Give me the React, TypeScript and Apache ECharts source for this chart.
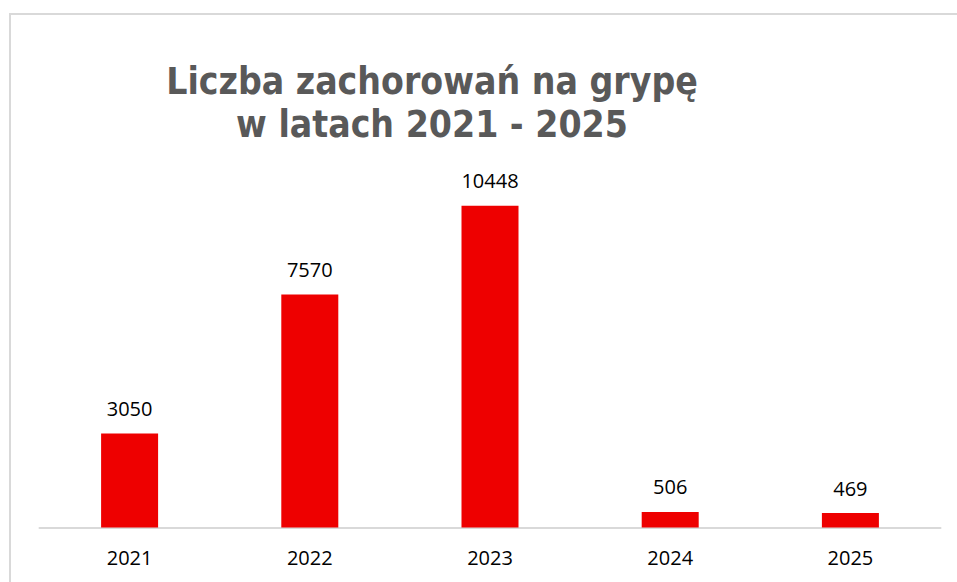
import React, { useEffect, useRef } from "react";
import * as echarts from "echarts";

const categories = ["2021", "2022", "2023", "2024", "2025"];
const cases = [3050, 7570, 10448, 506, 469];
const titleLines = ["Liczba zachorowań na grypę", "w latach 2021 - 2025"];

export default function App() {
  const ref = useRef<HTMLDivElement>(null);
  useEffect(() => {
    if (!ref.current) return;
    const chart = echarts.init(ref.current, null, { renderer: "svg" });
    chart.setOption({
      animation: false,
      backgroundColor: "#ffffff",
      title: {
        text: titleLines.join("\n"),
        left: 432,
        top: 60,
        padding: 0,
        textAlign: "center",
        textStyle: {
          fontFamily: "DejaVu Sans Condensed",
          fontWeight: "bold",
          fontSize: 37,
          lineHeight: 43,
          color: "#595959",
        },
      },
      graphic: [
        {
          type: "rect",
          shape: { x: 10, y: 14, width: 1200, height: 1200 },
          style: { fill: "none", stroke: "#D9D9D9", lineWidth: 2 },
          silent: true,
          z: -1,
        },
      ],
      grid: { left: 39.5, right: 16.5, top: 158, bottom: 54.5, containLabel: false },
      xAxis: {
        type: "category",
        data: categories,
        axisLine: { show: true, lineStyle: { color: "#D9D9D9", width: 2 } },
        axisTick: { show: false },
        axisLabel: {
          margin: 20,
          fontFamily: "Open Sans",
          fontSize: 20,
          color: "#000000",
        },
      },
      yAxis: {
        type: "value",
        min: 0,
        max: 12000,
        show: false,
        splitLine: { show: false },
      },
      series: [
        {
          type: "bar",
          data: cases,
          barWidth: 57,
          itemStyle: { color: "#EE0000" },
          label: {
            show: true,
            position: "top",
            distance: 15,
            fontFamily: "Open Sans",
            fontSize: 20,
            color: "#000000",
          },
        },
      ],
    });
    return () => chart.dispose();
  }, []);
  return (
    <div
      ref={ref}
      style={{ position: "fixed", left: 0, top: 0, width: 957, height: 582 }}
    />
  );
}
